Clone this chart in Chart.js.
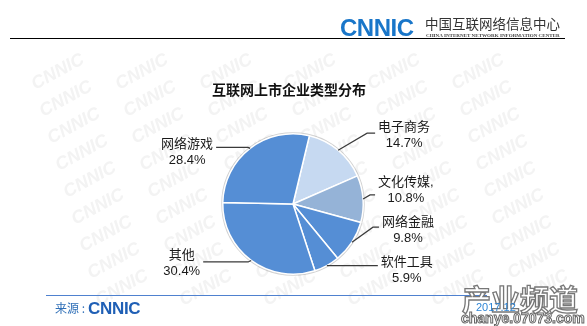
<!DOCTYPE html>
<html>
<head>
<meta charset="utf-8">
<script src="https://cdn.jsdelivr.net/npm/chart.js@4.4.1/dist/chart.umd.min.js"></script>
<style>
  html, body { margin: 0; padding: 0; background: #fff; }
  #page { position: relative; width: 587px; height: 326px; overflow: hidden; background: #fff;
          font-family: "Liberation Sans", "Noto Sans CJK SC", sans-serif; }
  #pieCanvas { position: absolute; left: 0; top: 0; }
  .abs { position: absolute; white-space: nowrap; line-height: 1; }
  #logo { left: 340px; top: 16px; font-size: 24px; font-weight: bold; color: #1976c9; letter-spacing: -0.5px; }
  #orgName { left: 425px; top: 17px; font-size: 13.5px; color: #333; font-family: "Noto Sans CJK SC", serif; }
  #orgEn { left: 426px; top: 33px; font-size: 5px; font-weight: bold; color: #444; font-family: "Liberation Serif", serif;
           transform-origin: 0 0; }
  #topRule { left: 10px; top: 38px; width: 555px; height: 0; border-top: 1.5px solid #000; }
  #title { left: 212px; top: 82px; font-size: 14px; font-weight: bold; color: #111; font-family: "Noto Sans CJK SC", sans-serif; }
  #footRule { left: 46px; top: 295px; width: 441px; height: 0; border-top: 1.5px solid #4f81cf; }
  #source { left: 55px; top: 302px; font-size: 12px; color: #2f6fb7; font-family: "Noto Sans CJK SC", sans-serif; }
  #footLogo { left: 88px; top: 300px; font-size: 17px; font-weight: bold; color: #1f5fb5; letter-spacing: -0.3px; }
  #mark { left: 462px; top: 284px; font-size: 29px; font-weight: bold; color: #fff; -webkit-text-stroke: 1.3px #777;
          font-family: "Noto Sans CJK SC", sans-serif; }
  #markUrl { left: 461px; top: 311px; font-size: 14px; font-weight: bold; color: #fff; -webkit-text-stroke: 1px #666; }
  #date { left: 476px; top: 302px; font-size: 11px; color: #2f86d6; }
</style>
</head>
<body>
<div id="page">
  <canvas id="pieCanvas" width="587" height="326"></canvas>
  <div class="abs" id="logo">CNNIC</div>
  <div class="abs" id="orgName">中国互联网络信息中心</div>
  <div class="abs" id="orgEn">CHINA INTERNET NETWORK INFORMATION CENTER</div>
  <div class="abs" id="topRule"></div>
  <div class="abs" id="title">互联网上市企业类型分布</div>
  <div class="abs" id="footRule"></div>
  <div class="abs" id="source">来源 :</div>
  <div class="abs" id="footLogo">CNNIC</div>
  <div class="abs" id="mark">产业频道</div>
  <div class="abs" id="markUrl">chanye.07073.com</div>
  <div class="abs" id="date">2017.12</div>
</div>
<script>
// data, clockwise from the top
const categories = ['电子商务', '文化传媒,', '网络金融', '软件工具', '其他', '网络游戏'];
const shares = [14.7, 10.8, 9.8, 5.9, 30.4, 28.4];
const sliceColors = ['#c6d9f1', '#95b3d7', '#558ed5', '#558ed5', '#558ed5', '#558ed5'];

// leader line: [elbow dx, elbow dy, horizontal run, first text line offset]
const labelLayout = [
    [29, -17, 8, -6],
    [7, -4, 5, -13],
    [21, -15, 6, -5],
    [25, 0, 26, -3],
    [-3, 1.5, 45, -7],
    [-2, -1, 32, -3]
];

// squeeze the tiny english line to its width
const en = document.getElementById('orgEn');
en.style.transform = 'scaleX(' + (134 / en.offsetWidth) + ')';

const canvas = document.getElementById('pieCanvas');
const ctx = canvas.getContext('2d');

const watermark = {
    id: 'watermark',
    beforeDraw(chart) {
        const c = chart.ctx;
        c.save();
        c.fillStyle = '#f3f3f3';
        c.font = 'bold italic 18px "Liberation Sans", sans-serif';
        c.textAlign = 'center';
        c.textBaseline = 'middle';
        for (let col = 0; col < 7; col++) {
            for (let row = 0; row < 9; row++) {
                const x = 58 + col * 84 + row * 8;
                const y = 72 + row * 27;
                if (x > 545) continue;
                c.save();
                c.translate(x, y);
                c.rotate(-0.5);
                c.fillText('CNNIC', 0, 0);
                c.restore();
            }
        }
        c.restore();
    }
};

const pieRim = {
    id: 'pieRim',
    beforeDatasetsDraw(chart) {
        const arc = chart.getDatasetMeta(0).data[0];
        if (!arc) return;
        const p = arc.getProps(['x', 'y', 'outerRadius'], true);
        const c = chart.ctx;
        c.save();
        c.strokeStyle = 'rgba(0,0,0,0.18)';
        c.lineWidth = 2;
        c.beginPath();
        c.arc(p.x, p.y, p.outerRadius + 0.5, 0, Math.PI * 2);
        c.stroke();
        c.restore();
    }
};

const leaderLabels = {
    id: 'leaderLabels',
    afterDatasetsDraw(chart) {
        const c = chart.ctx;
        const meta = chart.getDatasetMeta(0);
        c.save();
        c.font = '13px "Liberation Sans", "Noto Sans CJK SC", sans-serif';
        c.textAlign = 'center';
        c.textBaseline = 'middle';
        meta.data.forEach((arc, i) => {
            const p = arc.getProps(['x', 'y', 'startAngle', 'endAngle', 'outerRadius'], true);
            const mid = (p.startAngle + p.endAngle) / 2;
            const ax = p.x + Math.cos(mid) * p.outerRadius;
            const ay = p.y + Math.sin(mid) * p.outerRadius;
            const [dx, dy, run, ty] = labelLayout[i];
            const side = Math.cos(mid) >= 0 ? 1 : -1;
            const ex = ax + dx, ey = ay + dy, lx = ex + side * run;
            c.strokeStyle = '#3a3a3a';
            c.lineWidth = 1.2;
            c.beginPath();
            c.moveTo(ax, ay);
            c.lineTo(ex, ey);
            c.lineTo(lx, ey);
            c.stroke();
            const lines = [categories[i], shares[i].toFixed(1) + '%'];
            const w = Math.max(...lines.map(t => c.measureText(t).width));
            const cx = lx + side * (3 + w / 2);
            c.fillStyle = '#1a1a1a';
            lines.forEach((t, k) => c.fillText(t, cx, ey + ty + k * 16));
        });
        c.restore();
    }
};

const pieChart = new Chart(ctx, {
    type: 'pie',
    data: {
        labels: categories,
        datasets: [{
            data: shares,
            backgroundColor: sliceColors,
            borderColor: '#ffffff',
            borderWidth: 1.5
        }]
    },
    options: {
        responsive: false,
        animation: false,
        devicePixelRatio: 1,
        rotation: 13.5,
        layout: { padding: { left: 222, right: 223, top: 133, bottom: 51 } },
        plugins: {
            legend: { display: false },
            tooltip: { enabled: false },
            title: { display: false }
        }
    },
    plugins: [watermark, pieRim, leaderLabels]
});
</script>
</body>
</html>
